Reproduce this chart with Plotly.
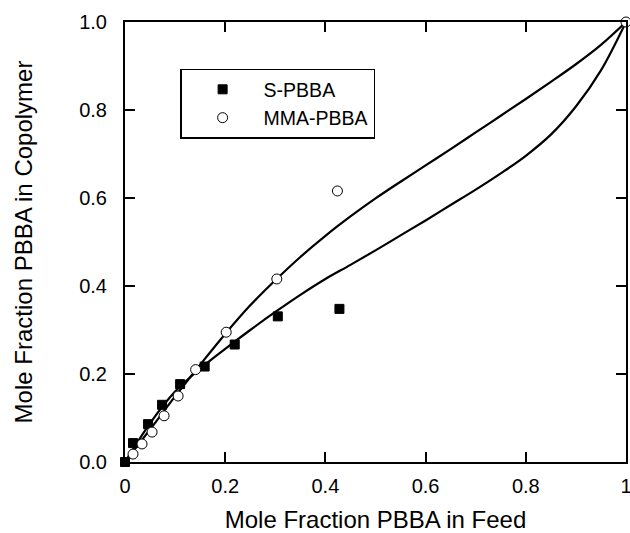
import plotly.graph_objects as go

# Data
s_feed = [0.0, 0.016, 0.046, 0.074, 0.110, 0.159, 0.219, 0.305, 0.428]
s_copoly = [0.0, 0.043, 0.086, 0.130, 0.177, 0.217, 0.267, 0.331, 0.348]

mma_feed = [0.016, 0.034, 0.054, 0.078, 0.106, 0.141, 0.202, 0.303, 0.424, 1.0]
mma_copoly = [0.018, 0.041, 0.068, 0.105, 0.150, 0.210, 0.295, 0.416, 0.616, 1.0]

# Fitted curves, values at these feed fractions
curve_x = [0.0, 0.05, 0.10, 0.15, 0.20, 0.25, 0.30, 0.35, 0.40, 0.45, 0.50,
           0.55, 0.60, 0.65, 0.70, 0.75, 0.80, 0.85, 0.90, 0.95, 1.0]
s_curve_y = [0.0, 0.088, 0.160, 0.212, 0.257, 0.300, 0.341, 0.380, 0.416, 0.448, 0.481,
             0.515, 0.549, 0.584, 0.619, 0.656, 0.696, 0.744, 0.808, 0.890, 1.0]
mma_curve_y = [0.0, 0.074, 0.149, 0.221, 0.291, 0.356, 0.413, 0.466, 0.514, 0.558, 0.599,
               0.637, 0.674, 0.711, 0.749, 0.787, 0.825, 0.864, 0.904, 0.948, 1.0]

x_tickvals = [0, 0.2, 0.4, 0.6, 0.8, 1.0]
x_ticktext = ["0", "0.2", "0.4", "0.6", "0.8", "1"]
y_tickvals = [0, 0.2, 0.4, 0.6, 0.8, 1.0]
y_ticktext = ["0.0", "0.2", "0.4", "0.6", "0.8", "1.0"]

FONT = "Liberation Sans, Arial, Helvetica, sans-serif"

fig = go.Figure()
fig.add_trace(go.Scatter(x=curve_x, y=s_curve_y, mode="lines",
                         line=dict(color="black", width=2.2, shape="spline", smoothing=1.0),
                         showlegend=False, hoverinfo="skip"))
fig.add_trace(go.Scatter(x=curve_x, y=mma_curve_y, mode="lines",
                         line=dict(color="black", width=2.2, shape="spline", smoothing=1.0),
                         showlegend=False, hoverinfo="skip"))
fig.add_trace(go.Scatter(x=s_feed, y=s_copoly, mode="markers", name="S-PBBA",
                         marker=dict(symbol="square", size=9, color="black",
                                     line=dict(color="black", width=1)),
                         cliponaxis=False))
fig.add_trace(go.Scatter(x=mma_feed, y=mma_copoly, mode="markers", name="MMA-PBBA",
                         marker=dict(symbol="circle", size=10, color="white",
                                     line=dict(color="black", width=1)),
                         cliponaxis=False))

axis_common = dict(
    showline=True, linecolor="black", linewidth=2, mirror="ticks",
    ticks="inside", ticklen=10, tickwidth=2, tickcolor="black",
    showgrid=False, zeroline=False, automargin=False,
    ticklabeloverflow="allow",
    tickfont=dict(family=FONT, size=20, color="black"),
)

fig.update_xaxes(range=[0, 1], tickvals=x_tickvals, ticktext=x_ticktext,
                 ticklabelstandoff=5,
                 title=dict(text="Mole Fraction PBBA in Feed",
                            font=dict(family=FONT, size=24, color="black"),
                            standoff=18),
                 **axis_common)
fig.update_yaxes(range=[0, 1], tickvals=y_tickvals, ticktext=y_ticktext,
                 ticklabelstandoff=12,
                 title=dict(text="Mole Fraction PBBA in Copolymer",
                            font=dict(family=FONT, size=24, color="black"),
                            standoff=40),
                 **axis_common)

fig.update_layout(
    width=630, height=533,
    margin=dict(l=125, r=4, t=22, b=71),
    paper_bgcolor="white", plot_bgcolor="white",
    font=dict(family=FONT, color="black"),
    legend=dict(x=0.11, y=0.894, xanchor="left", yanchor="top",
                bgcolor="white", bordercolor="black", borderwidth=1.5,
                font=dict(family=FONT, size=19.5, color="black"),
                itemwidth=72, tracegroupgap=2),
)

fig.write_html("out.html", config={"displayModeBar": False},
               post_script="document.body.style.margin='0';")
